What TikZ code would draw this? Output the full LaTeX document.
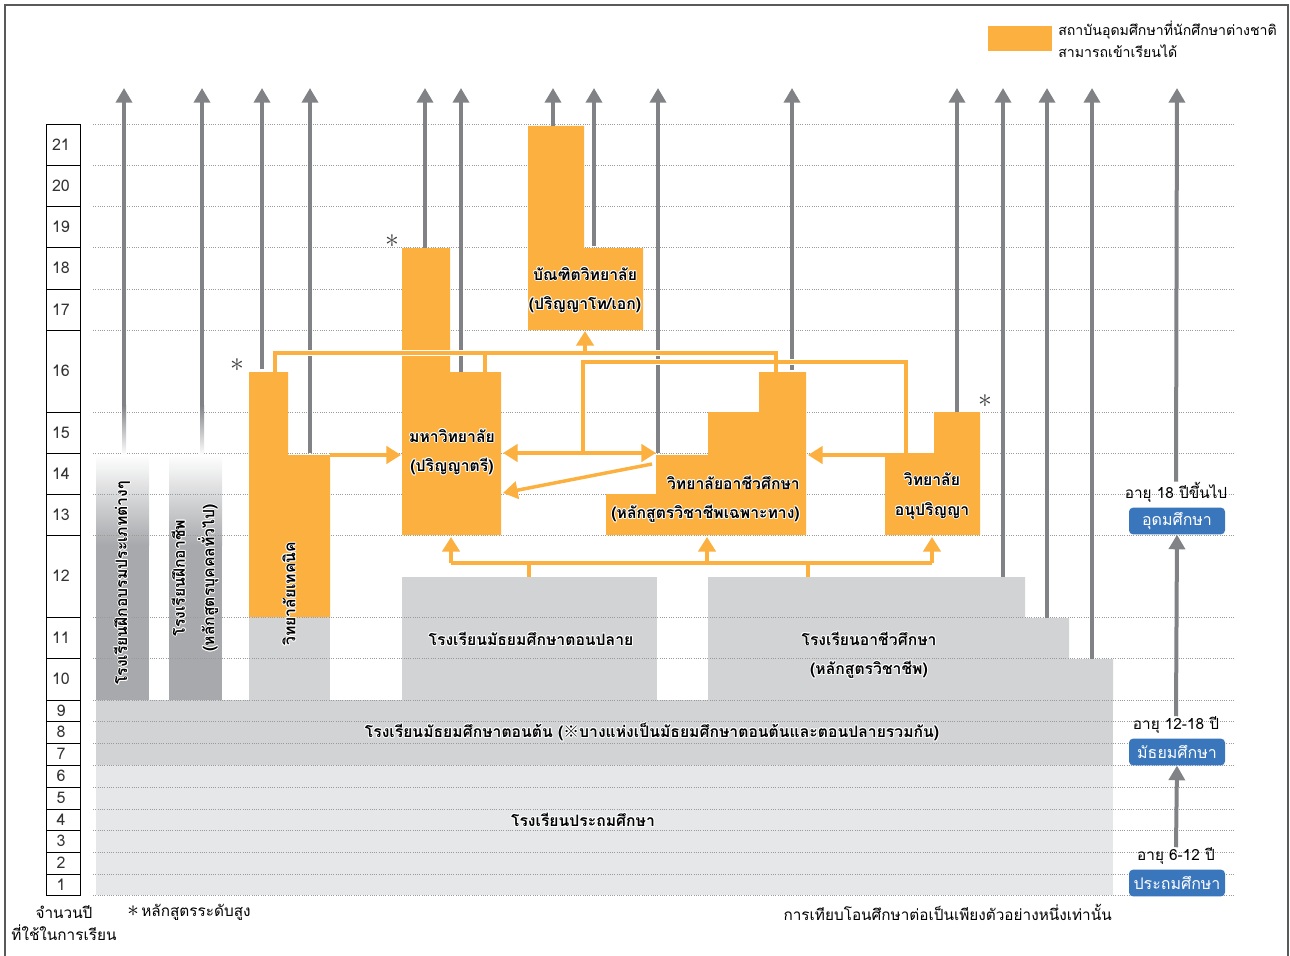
\documentclass[tikz,border=0pt]{standalone}
\usepackage{fontspec}
\setmainfont{Loma}[Script=Thai]
\newfontfamily\markfont{Noto Sans CJK JP}
\usetikzlibrary{arrows.meta}
\definecolor{eduOrange}{RGB}{251,176,64}
\definecolor{eduArrow}{RGB}{128,130,133}
\definecolor{eduGray}{RGB}{209,211,212}
\definecolor{eduLight}{RGB}{230,231,232}
\definecolor{eduDark}{RGB}{167,169,172}
\definecolor{eduBlue}{RGB}{58,118,187}
\definecolor{eduFrame}{RGB}{88,89,91}
\pgfdeclarelayer{halo}
\pgfdeclarelayer{lines}
\pgfdeclarelayer{nodes}
\pgfsetlayers{main,halo,lines,nodes}
\tikzset{
  uparrow/.style={draw=eduArrow, line width=3pt, -{Triangle[width=12pt,length=11pt]}},
  feed/.style={draw=eduOrange, line width=2.6pt},
  feedhalo/.style={draw=white, line width=5pt},
  feedtip/.style={-{Triangle[width=13pt,length=11pt]}},
  feedboth/.style={{Triangle[width=13pt,length=11pt]}-{Triangle[width=13pt,length=11pt]}},
  yeargrid/.style={draw=eduArrow!80, densely dotted, line width=0.7pt},
  yearbox/.style={draw=black, line width=0.7pt, fill=white},
  yearnum/.style={font=\fontsize{12}{14}\selectfont, text=black!80},
  school/.style={fill=eduOrange},
  schoolname/.style={font=\bfseries\fontsize{11.8}{22}\selectfont, align=center, inner sep=0pt},
  plaintext/.style={font=\fontsize{11.5}{16.5}\selectfont, align=center, inner sep=0pt},
  agebox/.style={fill=eduBlue, text=white, rounded corners=3pt, minimum width=72pt,
    minimum height=20pt, inner sep=0pt, font=\fontsize{12}{14}\selectfont},
  asterisk/.style={font=\fontsize{22}{22}\selectfont, text=black!75, inner sep=0pt}
}
% white outline round a bold label
\newcommand{\halo}[1]{\leavevmode\rlap{\color{white}%
  \foreach \hx/\hy in {-0.7/0,0.7/0,0/0.7,0/-0.7,-0.5/0.5,0.5/0.5,-0.5/-0.5,0.5/-0.5}
    {\rlap{\kern\hx pt\raisebox{\hy pt}{#1}}}}#1}
\newcommand{\feedline}[2][]{%
  \begin{pgfonlayer}{halo}\draw[feedhalo,#1] #2;\end{pgfonlayer}%
  \begin{pgfonlayer}{lines}\draw[feed,#1] #2;\end{pgfonlayer}}
\begin{document}
\begin{tikzpicture}[x=0.75pt,y=-0.75pt]
  \useasboundingbox (0,0) rectangle (1290,956);
  % Frame
  \draw[eduFrame, line width=1.6pt] (5,956) -- (5,5) -- (1288,5) -- (1288,956);
  % Legend
  \fill[eduOrange] (988,26) rectangle (1052,51);
  \node[plaintext, font=\fontsize{10.6}{16.5}\selectfont, anchor=west, align=left] (legend)
    at (1058,39) {สถาบันอุดมศึกษาที่นักศึกษาต่างชาติ\\สามารถเข้าเรียนได้};
  % Grey schools
  \fill[eduLight] (96,765) rectangle (1113,895);
  \fill[eduGray] (96,700) rectangle (1113,765);
  \fill[eduGray] (402,577) rectangle (657,700);
  \fill[eduGray] (708,577) -- (1025,577) -- (1025,618) -- (1069,618) -- (1069,659)
    -- (1113,659) -- (1113,700) -- (708,700) -- cycle;
  \fill[eduGray] (249,617) rectangle (330,700);
  \foreach \x in {96,169} {
    \shade[top color=white, bottom color=eduDark] (\x,455) rectangle (\x+53,545);
    \fill[eduDark] (\x,545) rectangle (\x+53,700);
  }
  % Year grid
  \foreach \y in {124,165,206,247,289,330,412,453,494,535,617,658,700,
                  721,743,765,787,809,830,852,874,895}
    \draw[yeargrid] (93,\y) -- (1234,\y);
  \foreach \n/\a/\b in {21/124/165,20/165/206,19/206/247,18/247/289,17/289/330,
      16/330/412,15/412/453,14/453/494,13/494/535,12/535/617,11/617/658,10/658/700,
      9/700/721,8/721/743,7/743/765,6/765/787,5/787/809,4/809/830,3/830/852,
      2/852/874,1/874/895} {
    \draw[yearbox] (46,\a) rectangle (80,\b);
    \node[yearnum] (y\n) at (61,{(\a+\b)/2}) {\n};
  }
  % Orange schools
  \fill[school] (249,372) -- (288,372) -- (288,455) -- (330,455) -- (330,617)
    -- (249,617) -- cycle;
  \fill[school] (402,248) -- (450,248) -- (450,372) -- (501,372) -- (501,535)
    -- (402,535) -- cycle;
  \fill[school] (528,126) -- (584,126) -- (584,248) -- (643,248) -- (643,330)
    -- (528,330) -- cycle;
  \fill[school] (759,372) -- (806,372) -- (806,535) -- (606,535) -- (606,494)
    -- (656,494) -- (656,455) -- (708,455) -- (708,412) -- (759,412) -- cycle;
  \fill[school] (934,412) -- (980,412) -- (980,535) -- (885,535) -- (885,453)
    -- (934,453) -- cycle;
  % Grey arrows
  \foreach \x in {124,202} {
    \shade[top color=eduArrow, bottom color=white] (\x-2,405) rectangle (\x+2,455);
    \draw[uparrow] (\x,405) -- (\x,88);
  }
  \foreach \x/\y in {262/369,310/453,425/248,461/372,553/126,594/246,658/453,
                     792/370,957/412,1003/577,1047/618,1092/659}
    \draw[uparrow] (\x,\y) -- (\x,88);
  % Orange connectors
  \feedline{(275,372) -- (275,353) -- (776,353) -- (776,372)}
  \feedline{(485,372) -- (485,353)}
  \feedline[feedtip]{(585,353) -- (585,331)}
  \feedline{(906,453) -- (906,362) -- (583,362) -- (583,453)}
  \feedline[feedboth]{(503,453) -- (656,453)}
  \feedline[feedtip]{(885,455) -- (808,455)}
  \feedline[feedtip]{(330,455) -- (401,455)}
  \feedline[feedtip]{(652,464) -- (503,493)}
  \feedline{(529,577) -- (529,563)}
  \feedline{(808,577) -- (808,563)}
  \feedline{(451,563) -- (932,563)}
  \foreach \x in {451,707,932} {
    \feedline[feedtip]{(\x,563) -- (\x,537)}
  }
  % Labels
  \begin{pgfonlayer}{nodes}
    \node[schoolname] (grad) at (585,290) {\halo{บัณฑิตวิทยาลัย}\\\halo{(ปริญญาโท/เอก)}};
    \node[schoolname] (univ) at (452,452) {\halo{มหาวิทยาลัย}\\\halo{(ปริญญาตรี)}};
    \node[schoolname, align=right, anchor=east] (voccol) at (800,499)
      {\halo{วิทยาลัยอาชีวศึกษา}\\\halo{(หลักสูตรวิชาชีพเฉพาะทาง)}};
    \node[schoolname] (junior) at (932,496) {\halo{วิทยาลัย}\\\halo{อนุปริญญา}};
    \node[schoolname] (upper) at (531,639) {\halo{โรงเรียนมัธยมศึกษาตอนปลาย}};
    \node[schoolname] (vochs) at (869,655)
      {\halo{โรงเรียนอาชีวศึกษา}\\\halo{(หลักสูตรวิชาชีพ)}};
    \node[schoolname] (lower) at (652,732)
      {\halo{โรงเรียนมัธยมศึกษาตอนต้น ({\markfont ※}บางแห่งเป็นมัธยมศึกษาตอนต้นและตอนปลายรวมกัน)}};
    \node[schoolname] (primary) at (583,820) {\halo{โรงเรียนประถมศึกษา}};
    \node[schoolname, rotate=90] (train) at (122,583) {\halo{โรงเรียนฝึกอบรมประเภทต่างๆ}};
    \node[schoolname, rotate=90] (jobtrain) at (195,578)
      {\halo{โรงเรียนฝึกอาชีพ}\\\halo{(หลักสูตรบุคคลทั่วไป)}};
    \node[schoolname, rotate=90] (tech) at (289,594) {\halo{วิทยาลัยเทคนิค}};
    \node[asterisk] (s1) at (237,365) {$\ast$};
    \node[asterisk] (s2) at (392,241) {$\ast$};
    \node[asterisk] (s3) at (985,401) {$\ast$};
    % Age column
    \node[plaintext] (age18) at (1176,492) {อายุ 18 ปีขึ้นไป};
    \node[agebox] (higher) at (1177,521) {อุดมศึกษา};
    \node[plaintext] (age12) at (1176,725) {อายุ 12-18 ปี};
    \node[agebox] (middle) at (1177,752) {มัธยมศึกษา};
    \node[plaintext] (age6) at (1176,856) {อายุ 6-12 ปี};
    \node[agebox] (prim) at (1177,883) {ประถมศึกษา};
    % Captions
    \node[plaintext] (years) at (64,923) {จำนวนปี\\ที่ใช้ในการเรียน};
    \node[plaintext, anchor=west] (advnote) at (127,912)
      {{\fontsize{18}{18}\selectfont$\ast$}\,หลักสูตรระดับสูง};
    \node[plaintext, anchor=east] (example) at (1112,912)
      {การเทียบโอนศึกษาต่อเป็นเพียงตัวอย่างหนึ่งเท่านั้น};
  \end{pgfonlayer}
  \draw[uparrow] (age18.north) -- (1177,88);
  \draw[uparrow] (age12.north) -- (higher.south);
  \draw[uparrow] (age6.north) -- (middle.south);
\end{tikzpicture}
\end{document}
